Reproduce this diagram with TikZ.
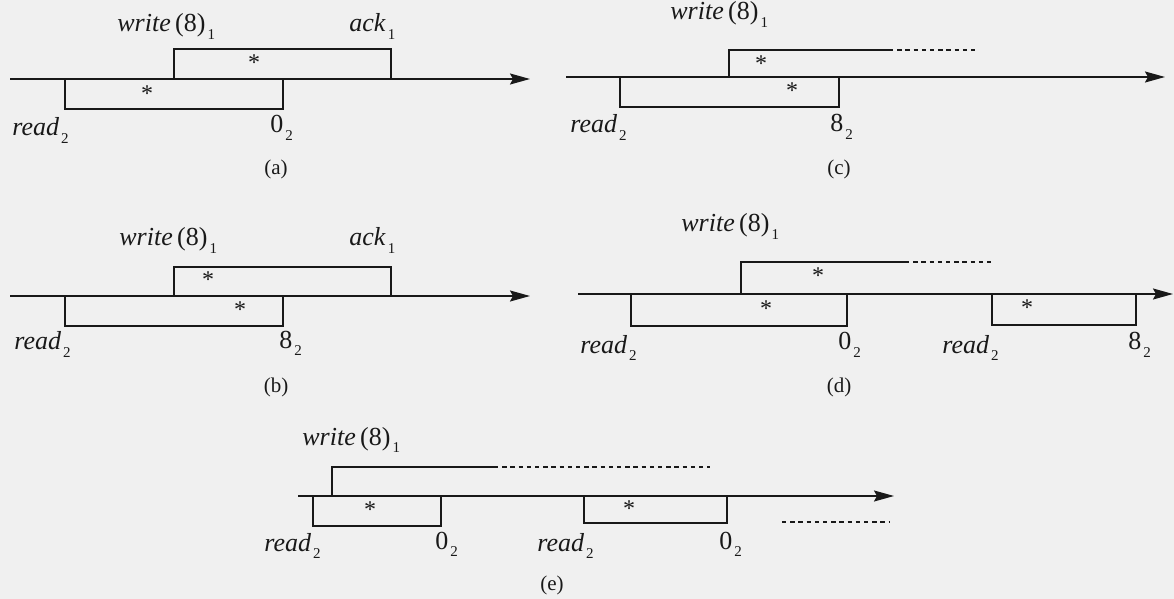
\documentclass[tikz,border=0pt]{standalone}
\usepackage{fontspec}
\setmainfont{Liberation Serif}
\usetikzlibrary{arrows.meta}
\definecolor{paper}{RGB}{240,240,240}
\definecolor{ink}{RGB}{25,25,25}
\newcommand{\sub}[1]{\kern0.08em\raisebox{-0.3em}{\fontsize{7.5}{8}\selectfont #1}}
\newcommand{\opwrite}{\textit{write}\,(8)\sub{1}}
\newcommand{\opread}{\textit{read}\sub{2}}
\newcommand{\opack}{\textit{ack}\sub{1}}
\tikzset{
  timeaxis/.style={draw=ink,line width=0.9pt,-{Stealth[length=10pt,width=5.5pt,inset=1.5pt]}},
  opline/.style={draw=ink,line width=0.9pt},
  openline/.style={draw=ink,line width=0.9pt,dash pattern=on 2.2pt off 1.9pt},
  oplabel/.style={anchor=base west,inner sep=0pt,font=\fontsize{13}{15}\selectfont,text=ink},
  starmark/.style={anchor=base,yshift=-5.4pt,inner sep=0pt,font=\fontsize{12}{12}\selectfont,text=ink},
  caption/.style={inner sep=0pt,font=\fontsize{10.5}{12}\selectfont,text=ink}
}
\begin{document}
\begin{tikzpicture}[x=0.5pt,y=-0.5pt]
  \fill[paper] (0,0) rectangle (1174,599);
  \useasboundingbox (0,0) rectangle (1174,599);

  % (a) write and read overlap, read returns 0
  \draw[timeaxis] (10,79) -- (530,79);
  \draw[opline] (174,79) |- (391,49) -- (391,79);
  \draw[opline] (65,79) |- (283,109) -- (283,79);
  \node[starmark] (sa1) at (254,60) {*};
  \node[starmark] (sa2) at (147,91) {*};
  \node[oplabel] (wa) at (117,32) {\opwrite};
  \node[oplabel] (ka) at (349,32) {\opack};
  \node[oplabel] (ra) at (12,136) {\opread};
  \node[oplabel] (va) at (270,133) {0\sub{2}};
  \node[caption] (capa) at (276,169) {(a)};

  % (b) read returns 8
  \draw[timeaxis] (10,296) -- (530,296);
  \draw[opline] (174,296) |- (391,267) -- (391,296);
  \draw[opline] (65,296) |- (283,326) -- (283,296);
  \node[starmark] (sb1) at (208,277) {*};
  \node[starmark] (sb2) at (240,307) {*};
  \node[oplabel] (wb) at (119,246) {\opwrite};
  \node[oplabel] (kb) at (349,246) {\opack};
  \node[oplabel] (rb) at (14,350) {\opread};
  \node[oplabel] (vb) at (279,348) {8\sub{2}};
  \node[caption] (capb) at (276,387) {(b)};

  % (c) pending write
  \draw[timeaxis] (566,77) -- (1165,77);
  \draw[opline] (729,77) -- (729,50) -- (889,50);
  \draw[openline] (889,50) -- (979,50);
  \draw[opline] (620,77) |- (839,107) -- (839,77);
  \node[starmark] (sc1) at (761,61) {*};
  \node[starmark] (sc2) at (792,88) {*};
  \node[oplabel] (wc) at (670,20) {\opwrite};
  \node[oplabel] (rc) at (570,133) {\opread};
  \node[oplabel] (vc) at (830,132) {8\sub{2}};
  \node[caption] (capc) at (839,169) {(c)};

  % (d) two reads against a pending write
  \draw[timeaxis] (578,294) -- (1173,294);
  \draw[opline] (741,294) -- (741,262) -- (905,262);
  \draw[openline] (905,262) -- (994,262);
  \draw[opline] (631,294) |- (847,326) -- (847,294);
  \draw[opline] (992,294) |- (1136,325) -- (1136,294);
  \node[starmark] (sd1) at (818,273) {*};
  \node[starmark] (sd2) at (766,306) {*};
  \node[starmark] (sd3) at (1027,305) {*};
  \node[oplabel] (wd) at (681,232) {\opwrite};
  \node[oplabel] (rd1) at (580,353) {\opread};
  \node[oplabel] (vd1) at (838,350) {0\sub{2}};
  \node[oplabel] (rd2) at (942,353) {\opread};
  \node[oplabel] (vd2) at (1128,350) {8\sub{2}};
  \node[caption] (capd) at (839,387) {(d)};

  % (e) reads keep returning 0
  \draw[timeaxis] (298,496) -- (894,496);
  \draw[opline] (332,496) -- (332,467) -- (494,467);
  \draw[openline] (494,467) -- (710,467);
  \draw[opline] (313,496) |- (441,526) -- (441,496);
  \draw[opline] (584,496) |- (727,523) -- (727,496);
  \draw[openline] (782,522) -- (890,522);
  \node[starmark] (se1) at (370,507) {*};
  \node[starmark] (se2) at (629,506) {*};
  \node[oplabel] (we) at (302,445) {\opwrite};
  \node[oplabel] (re1) at (264,551) {\opread};
  \node[oplabel] (ve1) at (435,549) {0\sub{2}};
  \node[oplabel] (re2) at (537,551) {\opread};
  \node[oplabel] (ve2) at (719,549) {0\sub{2}};
  \node[caption] (cape) at (552,585) {(e)};
\end{tikzpicture}
\end{document}
